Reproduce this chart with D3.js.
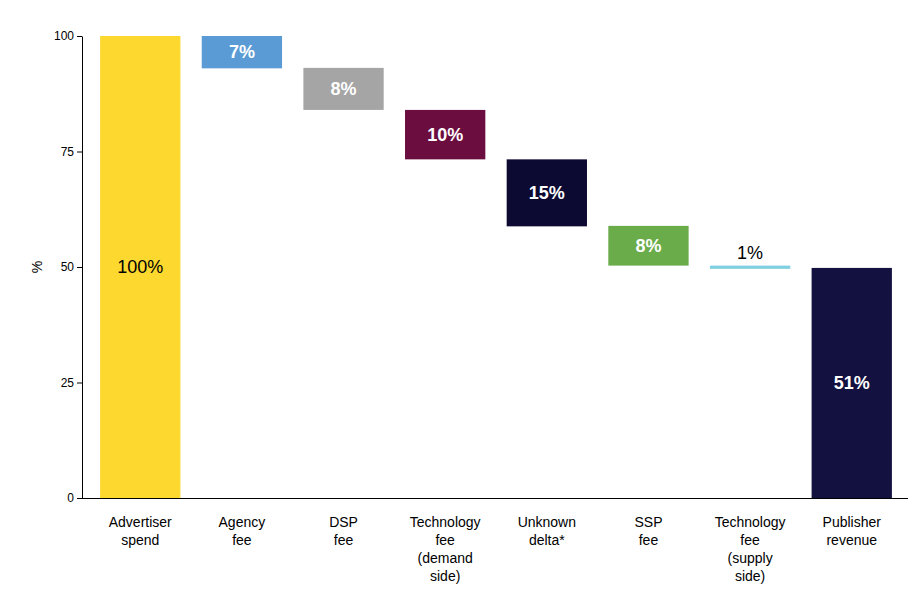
<!DOCTYPE html>
<html><head><meta charset="utf-8">
<script src="https://cdn.jsdelivr.net/npm/d3@7"></script>
<style>body{margin:0;background:#fff;font-family:"Liberation Sans",Arial,sans-serif}</style>
</head><body><svg id="c" width="920" height="606"></svg>
<script>
const categories = [["Advertiser","spend"],["Agency","fee"],["DSP","fee"],["Technology","fee","(demand","side)"],["Unknown","delta*"],["SSP","fee"],["Technology","fee","(supply","side)"],["Publisher","revenue"]];
const barTop = [100, 100, 93.1, 84, 73.3, 58.9, 50.3, 49.8];
const barBottom = [0, 93, 84, 73.3, 58.8, 50.3, 49.6, 0];
const labels = ["100%","7%","8%","10%","15%","8%","1%","51%"];
const colors = ["#fdd92f","#5b9bd5","#a5a5a5","#6b0d3f","#0c0933","#6aab4a","#80cfe0","#13113f"];
const labelColors = ["#000","#fff","#fff","#fff","#fff","#fff","#000","#fff"];
const yTicks = [0,25,50,75,100];

const svg = d3.select("#c");
const x = d3.scaleBand().domain(d3.range(categories.length)).range([94,898]).paddingInner(0.21).paddingOuter(0.06);
const y = d3.scaleLinear().domain([0,100]).range([498,36]);

svg.append("g").attr("transform","translate(82,0)")
  .call(d3.axisLeft(y).tickValues(yTicks).tickSize(5).tickSizeOuter(0))
  .call(g=>g.selectAll("text").attr("font-size",12).attr("fill","#000").attr("font-family","Liberation Sans, Arial"))
  .call(g=>g.selectAll("line,path").attr("stroke","#000"));
svg.append("line").attr("x1",82).attr("x2",908).attr("y1",498.5).attr("y2",498.5).attr("stroke","#000");

svg.selectAll("rect.bar").data(categories).enter().append("rect")
  .attr("x",(d,i)=>x(i)).attr("width",x.bandwidth())
  .attr("y",(d,i)=>y(barTop[i])).attr("height",(d,i)=>y(barBottom[i])-y(barTop[i]))
  .attr("fill",(d,i)=>colors[i]);

svg.selectAll("text.val").data(labels).enter().append("text")
  .attr("x",(d,i)=>x(i)+x.bandwidth()/2)
  .attr("y",(d,i)=>i===6 ? y(barTop[i])-7 : (y(barTop[i])+y(barBottom[i]))/2+6)
  .attr("text-anchor","middle").attr("font-size",18)
  .attr("fill",(d,i)=>labelColors[i]).attr("font-weight",(d,i)=>(i===0||i===6)?"normal":"bold")
  .text(d=>d);

categories.forEach((lines,i)=>{
  const t = svg.append("text").attr("text-anchor","middle").attr("font-size",14).attr("fill","#000")
    .attr("x",x(i)+x.bandwidth()/2).attr("y",527);
  lines.forEach((l,j)=>t.append("tspan").attr("x",x(i)+x.bandwidth()/2).attr("dy",j?18:0).text(l));
});

svg.append("text").attr("transform","translate(42,267) rotate(-90)").attr("text-anchor","middle")
  .attr("font-size",14).text("%");
</script></body></html>
